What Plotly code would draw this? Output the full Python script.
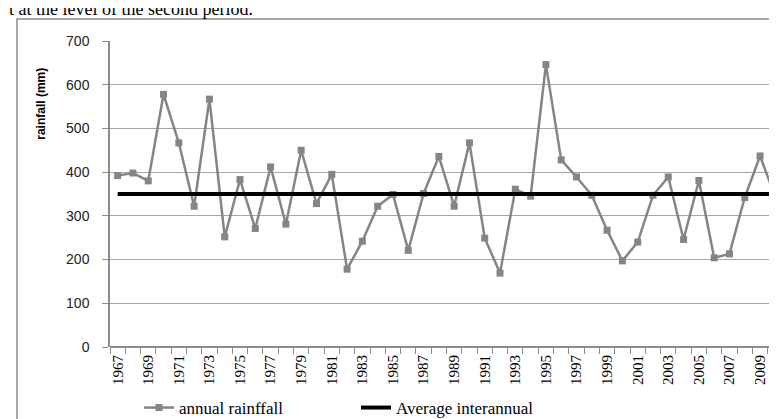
import plotly.graph_objects as go

years = list(range(1967, 2011))
rainfall = [392, 398, 380, 578, 467, 322, 567, 252, 383, 271,
            412, 281, 450, 328, 395, 178, 242, 322, 349, 221,
            351, 436, 322, 467, 249, 169, 361, 345, 646, 428,
            389, 347, 267, 197, 240, 347, 389, 246, 381, 204,
            213, 342, 437, 342]
average_interannual = 350
tick_years = list(range(1967, 2011, 2))
y_ticks = [0, 100, 200, 300, 400, 500, 600, 700]

W, H = 777, 419
L, R, T, B = 102, 2, 33, 79
pw, ph = W - L - R, H - T - B

fig = go.Figure()
fig.add_trace(go.Scatter(
    x=years, y=rainfall, mode="lines+markers", name="annual rainffall",
    line=dict(color="#858585", width=2.5),
    marker=dict(symbol="square", size=7, color="#858585"),
))
fig.add_trace(go.Scatter(
    x=[years[0], years[-1]], y=[average_interannual, average_interannual],
    mode="lines", name="Average interannual",
    line=dict(color="#000000", width=4),
))

def px_x(p):
    return (p - L) / pw

def px_y(p):
    return (H - B - p) / ph

# outer chart border (left and top visible)
fig.add_shape(type="rect", xref="paper", yref="paper",
              x0=px_x(9), x1=px_x(800), y0=px_y(440), y1=px_y(11),
              line=dict(color="#8c8c8c", width=1.5), layer="below")

fig.add_annotation(text="t at the level of the second period.", xref="paper", yref="paper",
                   x=px_x(-1), y=px_y(13), xanchor="left", yanchor="bottom",
                   showarrow=False, font=dict(family="Liberation Serif", size=18, color="#000"))

fig.add_annotation(text="<b>rainfall (mm)</b>", xref="paper", yref="paper",
                   x=px_x(33), y=px_y(96), xanchor="center", yanchor="middle",
                   textangle=-90, showarrow=False,
                   font=dict(family="Liberation Sans", size=12, color="#000"))

fig.update_layout(
    width=W, height=H,
    margin=dict(l=L, r=R, t=T, b=B, pad=0),
    paper_bgcolor="white", plot_bgcolor="white",
    showlegend=True,
    legend=dict(orientation="h", x=px_x(131), y=px_y(400), xanchor="left", yanchor="middle",
                font=dict(family="Liberation Serif", size=17, color="#000"),
                bgcolor="rgba(0,0,0,0)", itemwidth=30, entrywidth=172),
)
fig.update_xaxes(
    range=[1966.5, 2010.5], tickmode="array", tickvals=tick_years,
    ticktext=[str(y) for y in tick_years], tickangle=-90, ticks="",
    tickfont=dict(family="Liberation Serif", size=15, color="#000"),
    showgrid=False, zeroline=False, showline=False,
    minor=dict(ticks="outside", tickmode="linear", tick0=1966.5, dtick=1,
               ticklen=6, tickcolor="#8c8c8c", tickwidth=1.2, showgrid=False),
    ticklabelstandoff=4,
)
fig.update_yaxes(
    range=[0, 700], tickmode="array", tickvals=y_ticks,
    showgrid=True, gridcolor="#a6a6a6", gridwidth=1.3,
    zeroline=True, zerolinecolor="#8c8c8c", zerolinewidth=1.5,
    showline=True, linecolor="#8c8c8c", linewidth=1.5,
    ticks="outside", ticklen=6, tickcolor="#8c8c8c", tickwidth=1.2,
    tickfont=dict(family="Liberation Sans", size=14, color="#222"),
    ticklabelstandoff=10,
)

fig.write_html("out.html")
